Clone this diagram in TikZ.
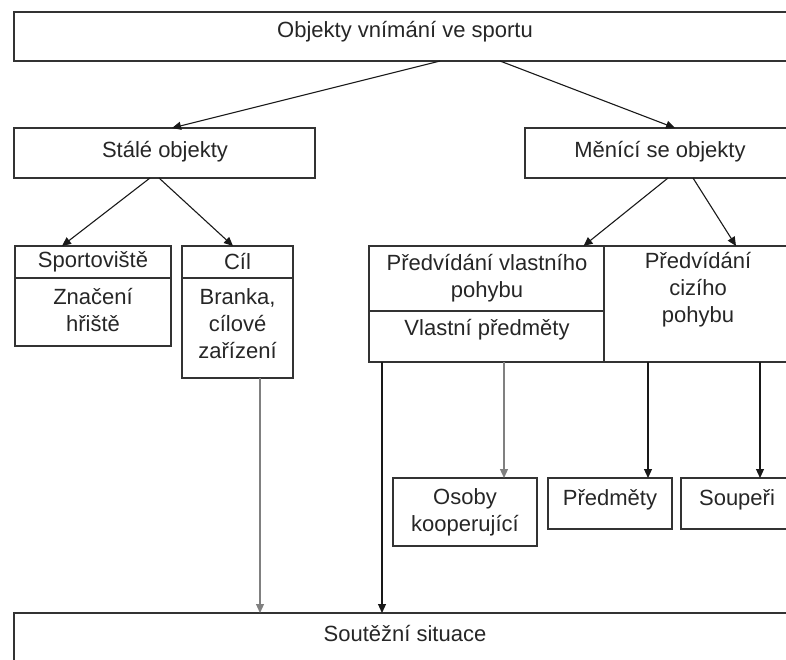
\documentclass[tikz,border=0pt]{standalone}
\usepackage{fontspec}
\setmainfont{Liberation Sans}
\usetikzlibrary{arrows.meta,calc}
\begin{document}
\begin{tikzpicture}[x=1pt,y=-1pt,
  box/.style={draw=black!80, line width=1.4pt, inner sep=0pt, outer sep=0pt},
  txt/.style={font=\fontsize{22}{27}\selectfont, text=black!85, align=center, inner sep=0pt},
  arr/.style={draw=black!90, line width=1.1pt, -{Triangle[length=9pt,width=8pt]}},
  garr/.style={arr, draw=black!50}
]
\useasboundingbox (0,0) rectangle (786,659);
\clip (0,0) rectangle (786,659);
% boxes
\node[box, minimum width=782pt, minimum height=49pt] (top) at (405,36.5) {};
\node[box, minimum width=301pt, minimum height=50pt] (stale) at (164.5,153) {};
\node[box, minimum width=271pt, minimum height=50pt] (menici) at (660.5,153) {};
\node[box, minimum width=156pt, minimum height=32pt] (sportH) at (93,262) {};
\node[box, minimum width=156pt, minimum height=68pt] (sportB) at (93,312) {};
\node[box, minimum width=111pt, minimum height=32pt] (cilH) at (237.5,262) {};
\node[box, minimum width=111pt, minimum height=100pt] (cilB) at (237.5,328) {};
\node[box, minimum width=235pt, minimum height=65pt] (predA) at (486.5,278.5) {};
\node[box, minimum width=235pt, minimum height=51pt] (predB) at (486.5,336.5) {};
\node[box, minimum width=192pt, minimum height=116pt] (predC) at (700,304) {};
\node[box, minimum width=144pt, minimum height=68pt] (osoby) at (465,512) {};
\node[box, minimum width=124pt, minimum height=51pt] (predm) at (610,503.5) {};
\node[box, minimum width=115pt, minimum height=51pt] (soup) at (738.5,503.5) {};
\node[box, minimum width=782pt, minimum height=57pt] (soutez) at (405,641.5) {};
% texts
\node[txt] (tTop) at (405,32) {Objekty vnímání ve sportu};
\node[txt] (tStale) at (165,152) {Stálé objekty};
\node[txt] (tMenici) at (660,152) {Měnící se objekty};
\node[txt] (tSportH) at (93,262) {Sportoviště};
\node[txt] (tSportB) at (93,310) {Značení\\hřiště};
\node[txt] (tCilH) at (237.5,262) {Cíl};
\node[txt] (tCilB) at (237.5,324) {Branka,\\cílové\\zařízení};
\node[txt] (tPredA) at (487,278) {Předvídání vlastního\\pohybu};
\node[txt] (tPredB) at (487,330) {Vlastní předměty};
\node[txt] (tPredC) at (698,290) {Předvídání\\cizího\\pohybu};
\node[txt] (tOsoby) at (465,512) {Osoby\\kooperující};
\node[txt] (tPredm) at (610,500) {Předměty};
\node[txt] (tSoup) at (737,500) {Soupeři};
\node[txt] (tSoutez) at (405,633) {Soutěžní situace};
% connectors
\draw[arr] ([xshift=35pt]top.south) -- ([xshift=7.5pt]stale.north);
\draw[arr] ([xshift=95pt]top.south) -- ([xshift=14.5pt]menici.north);
\draw[arr] ([xshift=-14.5pt]stale.south) -- ([xshift=-31pt]sportH.north);
\draw[arr] ([xshift=-5.5pt]stale.south) -- ([xshift=-4.5pt]cilH.north);
\draw[arr] ([xshift=7.5pt]menici.south) -- ([xshift=97pt]predA.north);
\draw[arr] ([xshift=32.5pt]menici.south) -- ([xshift=36pt]predC.north);
\coordinate (c1) at ([xshift=22.5pt]cilB.south);
\coordinate (c2) at ([xshift=-104.5pt]predB.south);
\coordinate (c3) at ([xshift=17.5pt]predB.south);
\coordinate (c4) at ([xshift=-52pt]predC.south);
\coordinate (c5) at ([xshift=60pt]predC.south);
\draw[garr] (c1) -- (c1 |- soutez.north);
\draw[arr] (c2) -- (c2 |- soutez.north);
\draw[garr] (c3) -- (c3 |- osoby.north);
\draw[arr] (c4) -- (c4 |- predm.north);
\draw[arr] (c5) -- (c5 |- soup.north);
\end{tikzpicture}
\end{document}
